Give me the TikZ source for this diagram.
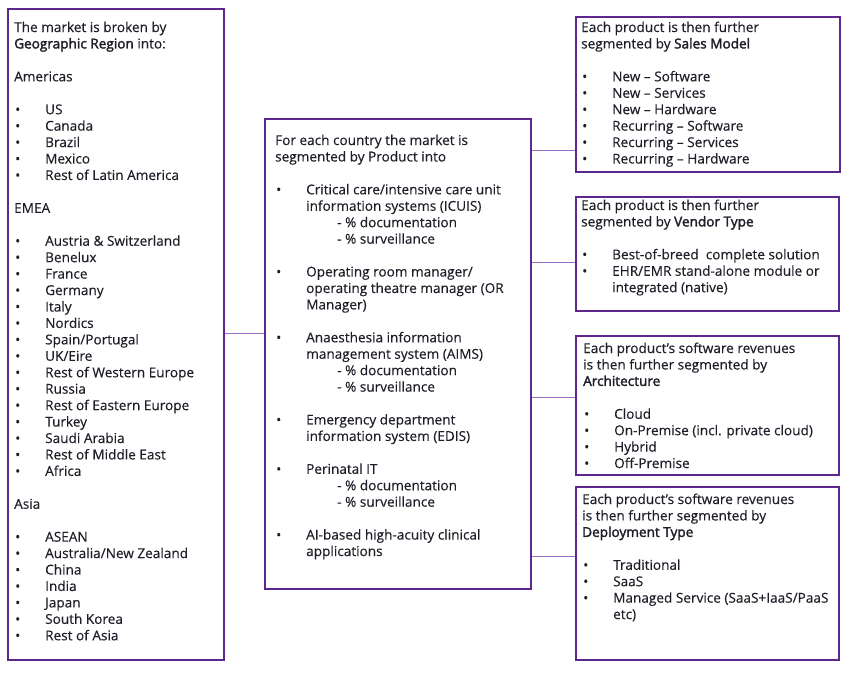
\documentclass[tikz,border=0pt]{standalone}
\usepackage{fontspec}
\setmainfont{Open Sans}[FakeBold=0.3]
\newfontfamily\semibfont{Open Sans}[FakeBold=2.2]
\definecolor{boxc}{HTML}{5E2790}
\definecolor{linec}{HTML}{9A6CC2}
\definecolor{txtc}{HTML}{1E1E28}
\newcommand\bul[1]{\makebox[31pt][l]{\hspace{1pt}\textbullet}#1}
\newcommand\subi[1]{\hspace*{62pt}#1}
\newcommand\sbf[1]{{\semibfont #1}}
\tikzset{
  box/.style={draw=boxc, line width=1.6pt, rectangle, inner sep=0pt, anchor=north west},
  conn/.style={draw=linec, line width=0.9pt},
  txt/.style={anchor=north west, inner sep=0pt, align=left, text=txtc,
    font={\fontsize{13.6}{16.44}\selectfont}}
}
\begin{document}
\begin{tikzpicture}[x=1pt,y=-1pt]
\useasboundingbox (0,0) rectangle (851,680);
% boxes
\node[box, minimum width=216pt, minimum height=651pt] (L) at (7,8) {};
\node[box, minimum width=266pt, minimum height=470pt] (M) at (264,118) {};
\node[box, minimum width=264pt, minimum height=155pt] (R1) at (575,16) {};
\node[box, minimum width=263pt, minimum height=114pt] (R2) at (575,196) {};
\node[box, minimum width=263pt, minimum height=139pt] (R3) at (575,335) {};
\node[box, minimum width=263pt, minimum height=173pt] (R4) at (575,486) {};
% texts
\node[txt] (Lt) at (14,20.3) {\strut The market is broken by\\
\sbf{Geographic Region} into:\\[16.44pt]
Americas\\[16.44pt]
\bul{US}\\ \bul{Canada}\\ \bul{Brazil}\\ \bul{Mexico}\\ \bul{Rest of Latin America}\\[16.44pt]
EMEA\\[16.44pt]
\bul{Austria \& Switzerland}\\ \bul{Benelux}\\ \bul{France}\\ \bul{Germany}\\ \bul{Italy}\\
\bul{Nordics}\\ \bul{Spain/Portugal}\\ \bul{UK/Eire}\\ \bul{Rest of Western Europe}\\
\bul{Russia}\\ \bul{Rest of Eastern Europe}\\ \bul{Turkey}\\ \bul{Saudi Arabia}\\
\bul{Rest of Middle East}\\ \bul{Africa}\\[16.44pt]
Asia\\[16.44pt]
\bul{ASEAN}\\ \bul{Australia/New Zealand}\\ \bul{China}\\ \bul{India}\\ \bul{Japan}\\
\bul{South Korea}\\ \bul{Rest of Asia}};
\node[txt] (Mt) at (275,133.3) {\strut For each country the market is\\
segmented by Product into\\[16.44pt]
\bul{Critical care/intensive care unit}\\
\hspace*{31pt}information systems (ICUIS)\\
\subi{- \% documentation}\\
\subi{- \% surveillance}\\[16.44pt]
\bul{Operating room manager/}\\
\hspace*{31pt}operating theatre manager (OR\\
\hspace*{31pt}Manager)\\[16.44pt]
\bul{Anaesthesia information}\\
\hspace*{31pt}management system (AIMS)\\
\subi{- \% documentation}\\
\subi{- \% surveillance}\\[16.44pt]
\bul{Emergency department}\\
\hspace*{31pt}information system (EDIS)\\[16.44pt]
\bul{Perinatal IT}\\
\subi{- \% documentation}\\
\subi{- \% surveillance}\\[16.44pt]
\bul{AI-based high-acuity clinical}\\
\hspace*{31pt}applications};
\node[txt] (R1t) at (581,20.3) {\strut Each product is then further\\
segmented by \sbf{Sales Model}\\[16.44pt]
\bul{New – Software}\\ \bul{New – Services}\\ \bul{New – Hardware}\\
\bul{Recurring – Software}\\ \bul{Recurring – Services}\\ \bul{Recurring – Hardware}};
\node[txt] (R2t) at (581,198.3) {\strut Each product is then further\\
segmented by \sbf{Vendor Type}\\[16.44pt]
\bul{Best-of-breed\ \ complete solution}\\
\bul{EHR/EMR stand-alone module or}\\
\hspace*{31pt}integrated (native)};
\node[txt] (R3t) at (583,341.3) {\strut Each product’s software revenues\\
is then further segmented by\\
\sbf{Architecture}\\[16.44pt]
\bul{Cloud}\\ \bul{On-Premise (incl. private cloud)}\\ \bul{Hybrid}\\ \bul{Off-Premise}};
\node[txt] (R4t) at (582,492.3) {\strut Each product’s software revenues\\
is then further segmented by\\
\sbf{Deployment Type}\\[16.44pt]
\bul{Traditional}\\ \bul{SaaS}\\ \bul{Managed Service (SaaS+IaaS/PaaS}\\
\hspace*{31pt}etc)};
% connectors
\draw[conn] (L.east |- 0,333) -- (M.west |- 0,333);
\draw[conn] (M.east |- 0,150) -- (R1.west |- 0,150);
\draw[conn] (M.east |- 0,262) -- (R2.west |- 0,262);
\draw[conn] (M.east |- 0,397) -- (R3.west |- 0,397);
\draw[conn] (M.east |- 0,556) -- (R4.west |- 0,556);
\end{tikzpicture}
\end{document}
